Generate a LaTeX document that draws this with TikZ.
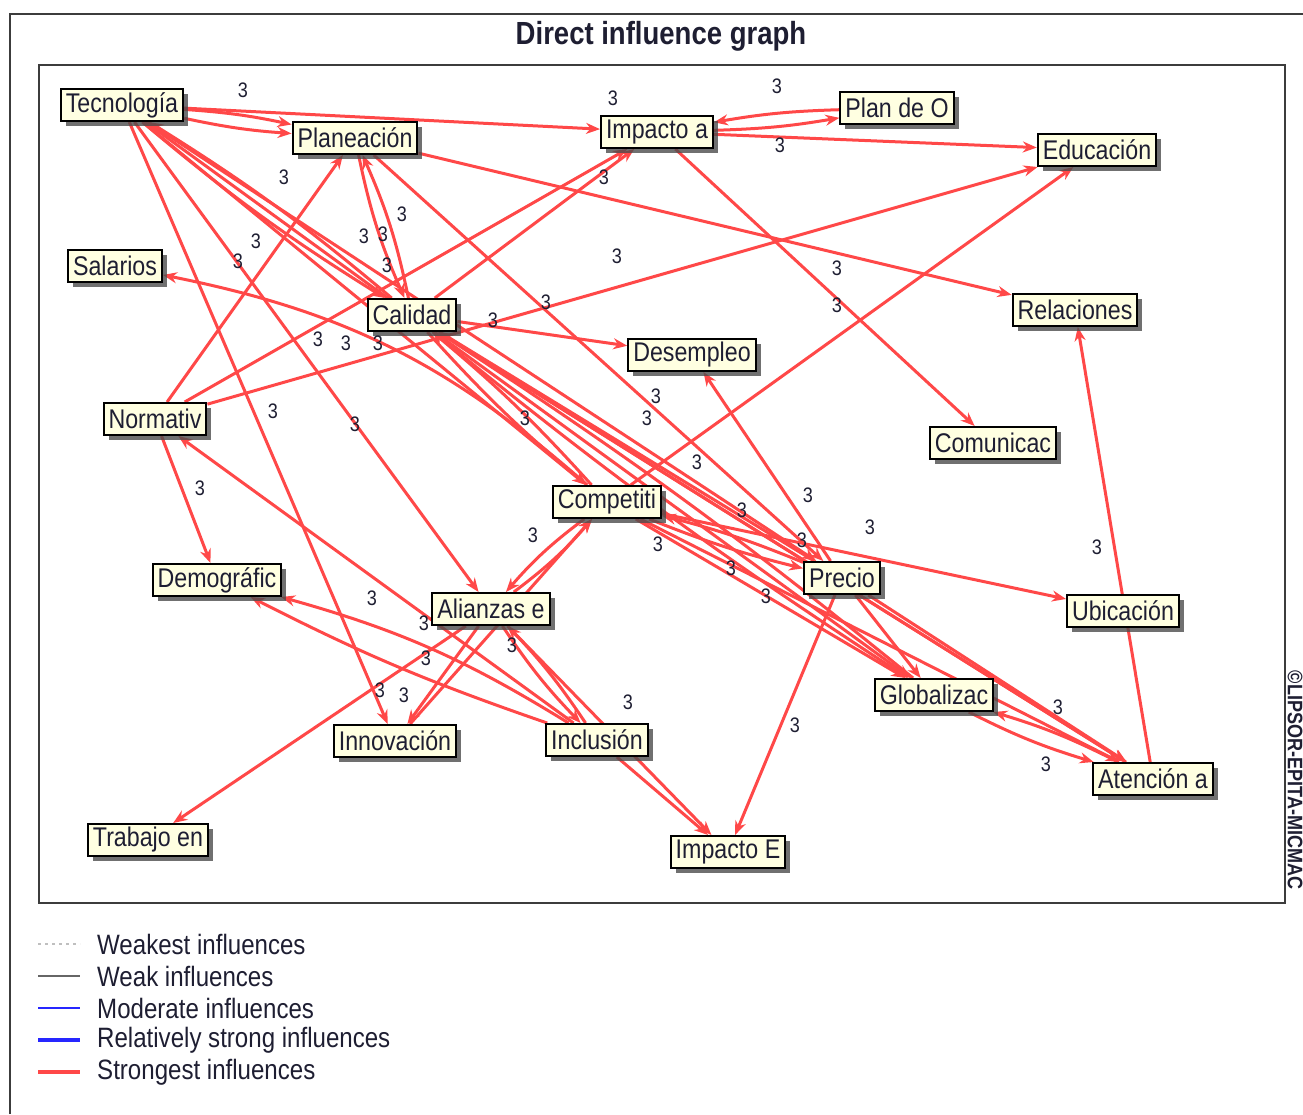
\documentclass[tikz,border=0pt]{standalone}
\usepackage{fontspec}
\usetikzlibrary{arrows.meta,shadows,backgrounds}
\newfontfamily\narrowsans{Liberation Sans}[FakeStretch=0.86]

\definecolor{strongred}{RGB}{255,72,72}
\definecolor{boxfill}{RGB}{255,255,225}
\definecolor{labelink}{RGB}{30,30,50}
\definecolor{framegray}{RGB}{60,60,60}

\tikzset{
  varbox/.style={draw=black, line width=2pt, fill=boxfill, text=labelink,
    font=\narrowsans\fontsize{27}{27}\selectfont, inner xsep=5pt, inner ysep=0pt,
    minimum height=32pt,
    drop shadow={shadow xshift=5pt, shadow yshift=-5pt, fill=black!70, opacity=0.8}},
  influence/.style={draw=strongred, line width=3pt, -{Stealth[length=14pt,width=11pt]}},
  weight/.style={font=\narrowsans\fontsize{21}{21}\selectfont, text=labelink, inner sep=0pt},
  legendtext/.style={font=\narrowsans\fontsize{28}{28}\selectfont, text=labelink, anchor=west, inner sep=0pt},
}

\begin{document}
\begin{tikzpicture}[x=1pt,y=1pt,yscale=-1]
\useasboundingbox (0,0) rectangle (1303,1114);

%Outer frame
\draw[framegray, line width=2pt] (10,1114) -- (10,14) -- (1303,14);
%Plot frame
\draw[framegray, line width=2pt] (39,65) rectangle (1285,903);

%Title
\node[font=\narrowsans\bfseries\fontsize{32}{32}\selectfont, text=labelink] (title) at (661,36) {Direct influence graph};
%Copyright
\node[rotate=-90, font=\narrowsans\bfseries\fontsize{21}{21}\selectfont, text=labelink] (copy) at (1295,780) {©LIPSOR-EPITA-MICMAC};

%Variables
\node[varbox] (tec)   at (122,105) {Tecnología};
\node[varbox] (plan)  at (355,138) {Planeación};
\node[varbox] (impa)  at (657,132) {Impacto a};
\node[varbox] (plao)  at (897,108) {Plan de O};
\node[varbox] (educ)  at (1097,150) {Educación};
\node[varbox] (sal)   at (115,266) {Salarios};
\node[varbox] (cal)   at (412,315) {Calidad};
\node[varbox] (desem) at (692,355) {Desempleo};
\node[varbox] (rel)   at (1075,310) {Relaciones};
\node[varbox] (nor)   at (155,419) {Normativ};
\node[varbox] (comu)  at (993,443) {Comunicac};
\node[varbox] (comp)  at (607,502) {Competiti};
\node[varbox] (dem)   at (217,580) {Demográfic};
\node[varbox] (alia)  at (491,609) {Alianzas e};
\node[varbox] (prec)  at (842,578) {Precio};
\node[varbox] (ubi)   at (1123,611) {Ubicación};
\node[varbox] (glob)  at (934,695) {Globalizac};
\node[varbox] (inno)  at (395,741) {Innovación};
\node[varbox] (incl)  at (597,740) {Inclusión};
\node[varbox] (aten)  at (1153,779) {Atención a};
\node[varbox] (trab)  at (148,840) {Trabajo en};
\node[varbox] (impe)  at (728,852) {Impacto E};

%Influences
\begin{pgfonlayer}{background}
\foreach \a/\b/\bd in {tec/impa/0, tec/plan/4, tec/plan/-4, tec/cal/4, cal/tec/4,
    tec/comp/0, tec/alia/0, tec/inno/0, tec/prec/0, tec/glob/0,
    nor/plan/0, nor/impa/0, nor/educ/0, nor/dem/0, incl/nor/0,
    plan/cal/6, cal/plan/6, cal/impa/0, cal/desem/0, cal/comp/4, comp/cal/4,
    prec/cal/0, glob/cal/3, cal/glob/3, aten/cal/0, cal/aten/0,
    plan/rel/0, plan/prec/0,
    impa/plao/4, plao/impa/4, impa/educ/0, impa/comu/0,
    comp/educ/0, comp/sal/15, comp/ubi/0, comp/prec/4, prec/comp/4,
    comp/glob/0, comp/aten/0,
    alia/comp/6, comp/alia/6, inno/comp/0,
    alia/trab/0, alia/inno/0, incl/alia/5, alia/incl/5,
    incl/dem/8, incl/dem/-4, alia/impe/0, incl/impe/0,
    prec/impe/0, prec/desem/0, aten/rel/0,
    glob/aten/5, aten/glob/5, prec/aten/0, prec/glob/0}
  \draw[influence] (\a) to[bend left=\bd] (\b);
\end{pgfonlayer}

%Weights
\foreach \x/\y [count=\i] in {243/90, 613/98, 777/86, 780/145, 604/177, 284/177,
    402/214, 364/236, 383/234, 256/241, 238/261, 387/265, 617/256, 546/302,
    837/268, 837/305, 493/320, 318/339, 346/343, 378/343, 273/411, 355/424,
    656/396, 647/418, 525/418, 697/462, 200/488, 808/495, 742/510, 870/527,
    533/535, 802/540, 658/544, 1097/547, 731/568, 766/596, 372/598, 424/623,
    426/658, 512/645, 628/702, 380/690, 404/695, 795/725, 1058/707, 1046/764}
  \node[weight] (w\i) at (\x,\y) {3};

%Legend
\draw[black!25, line width=1.5pt, dash pattern=on 3pt off 4pt] (38,944) -- (80,944);
\draw[black!60, line width=2pt] (38,976) -- (80,976);
\draw[blue!85, line width=1.5pt] (38,1008) -- (80,1008);
\draw[blue!85, line width=3.5pt] (38,1040) -- (80,1040);
\draw[strongred, line width=3.5pt] (38,1072) -- (80,1072);
\node[legendtext] (leg1) at (97,944) {Weakest influences};
\node[legendtext] (leg2) at (97,976) {Weak influences};
\node[legendtext] (leg3) at (97,1008) {Moderate influences};
\node[legendtext] (leg4) at (97,1040) {Relatively strong influences};
\node[legendtext] (leg5) at (97,1072) {Strongest influences};
\end{tikzpicture}
\end{document}
